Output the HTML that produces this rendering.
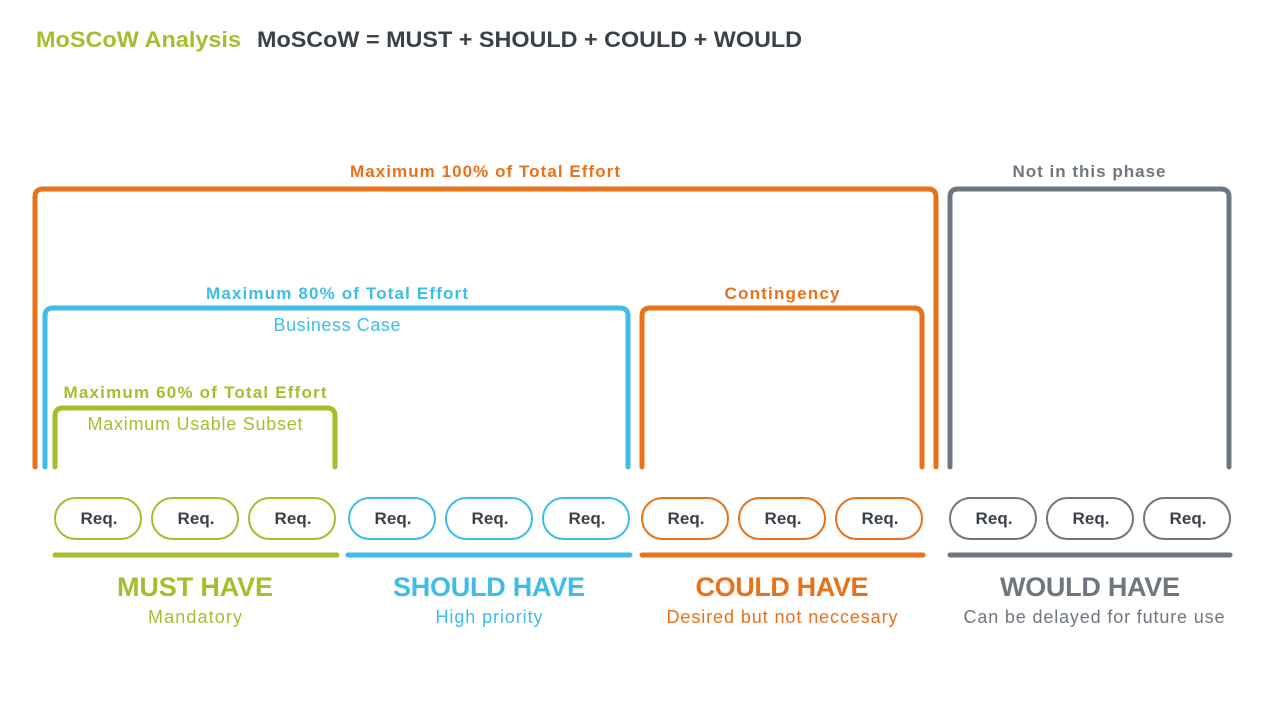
<!DOCTYPE html>
<html><head><meta charset="utf-8"><style>
html,body{margin:0;padding:0;background:#fff;}
svg{display:block;font-family:"Liberation Sans",sans-serif;}
.b{font-weight:bold;}
</style></head><body>
<svg width="1280" height="718" viewBox="0 0 1280 718">
<g fill="none" stroke-width="5" stroke-linecap="round" stroke-linejoin="round">
<path d="M35 467 V197 Q35 189 43 189 H928 Q936 189 936 197 V467" stroke="#e8711a"/>
<path d="M45 467 V316 Q45 308 53 308 H620 Q628 308 628 316 V467" stroke="#3dbde8"/>
<path d="M55 467 V416 Q55 408 63 408 H327 Q335 408 335 416 V467" stroke="#a3bf2c"/>
<path d="M642 467 V316 Q642 308 650 308 H914 Q922 308 922 316 V467" stroke="#e8711a"/>
<path d="M950 467 V197 Q950 189 958 189 H1221 Q1229 189 1229 197 V467" stroke="#6e7780"/>
<line x1="55" y1="555" x2="337" y2="555" stroke="#a3bf2c"/>
<line x1="348" y1="555" x2="630" y2="555" stroke="#3dbde8"/>
<line x1="642" y1="555" x2="923" y2="555" stroke="#e8711a"/>
<line x1="950" y1="555" x2="1230" y2="555" stroke="#6e7780"/>
</g>
<g fill="none" stroke-width="2">
<g stroke="#a3bf2c"><rect x="55" y="498" width="86" height="41" rx="20.5"/><rect x="152" y="498" width="86" height="41" rx="20.5"/><rect x="249" y="498" width="86" height="41" rx="20.5"/></g>
<g stroke="#3dbde8"><rect x="349" y="498" width="86" height="41" rx="20.5"/><rect x="446" y="498" width="86" height="41" rx="20.5"/><rect x="543" y="498" width="86" height="41" rx="20.5"/></g>
<g stroke="#e8711a"><rect x="642" y="498" width="86" height="41" rx="20.5"/><rect x="739" y="498" width="86" height="41" rx="20.5"/><rect x="836" y="498" width="86" height="41" rx="20.5"/></g>
<g stroke="#6e7780"><rect x="950" y="498" width="86" height="41" rx="20.5"/><rect x="1047" y="498" width="86" height="41" rx="20.5"/><rect x="1144" y="498" width="86" height="41" rx="20.5"/></g>
</g>
<g class="b" fill="#3b4148" font-size="17" text-anchor="middle" lengthAdjust="spacingAndGlyphs">
<text x="99" y="524" textLength="37">Req.</text><text x="196" y="524" textLength="37">Req.</text><text x="293" y="524" textLength="37">Req.</text>
<text x="393" y="524" textLength="37">Req.</text><text x="490" y="524" textLength="37">Req.</text><text x="587" y="524" textLength="37">Req.</text>
<text x="686" y="524" textLength="37">Req.</text><text x="783" y="524" textLength="37">Req.</text><text x="880" y="524" textLength="37">Req.</text>
<text x="994" y="524" textLength="37">Req.</text><text x="1091" y="524" textLength="37">Req.</text><text x="1188" y="524" textLength="37">Req.</text>
</g>
<text x="36" y="47" class="b" font-size="22" fill="#a3bf2c" textLength="205" lengthAdjust="spacingAndGlyphs">MoSCoW Analysis</text>
<text x="257" y="47" class="b" font-size="22" fill="#3b4148" textLength="545" lengthAdjust="spacingAndGlyphs">MoSCoW = MUST + SHOULD + COULD + WOULD</text>
<g class="b" font-size="17" text-anchor="middle" lengthAdjust="spacingAndGlyphs">
<text x="485" y="177" fill="#e8711a" textLength="270">Maximum 100% of Total Effort</text>
<text x="1089" y="177" fill="#6e7780" textLength="153">Not in this phase</text>
<text x="337" y="299" fill="#3dbde8" textLength="262">Maximum 80% of Total Effort</text>
<text x="782" y="299" fill="#e8711a" textLength="115">Contingency</text>
<text x="195" y="398" fill="#a3bf2c" textLength="263">Maximum 60% of Total Effort</text>
</g>
<g font-size="18" text-anchor="middle" lengthAdjust="spacingAndGlyphs">
<text x="337" y="331" fill="#3dbde8" textLength="127">Business Case</text>
<text x="195" y="430" fill="#a3bf2c" textLength="215">Maximum Usable Subset</text>
</g>
<g class="b" font-size="27" text-anchor="middle" lengthAdjust="spacingAndGlyphs">
<text x="195" y="596" fill="#a3bf2c" textLength="156">MUST HAVE</text>
<text x="489" y="596" fill="#3dbde8" textLength="192">SHOULD HAVE</text>
<text x="782" y="596" fill="#e8711a" textLength="173">COULD HAVE</text>
<text x="1090" y="596" fill="#6e7780" textLength="180">WOULD HAVE</text>
</g>
<g font-size="18" text-anchor="middle" lengthAdjust="spacingAndGlyphs">
<text x="195" y="623" fill="#a3bf2c" textLength="94">Mandatory</text>
<text x="489" y="623" fill="#3dbde8" textLength="107">High priority</text>
<text x="782" y="623" fill="#e8711a" textLength="231">Desired but not neccesary</text>
<text x="1094" y="623" fill="#6e7780" textLength="261">Can be delayed for future use</text>
</g>
</svg>
</body></html>
